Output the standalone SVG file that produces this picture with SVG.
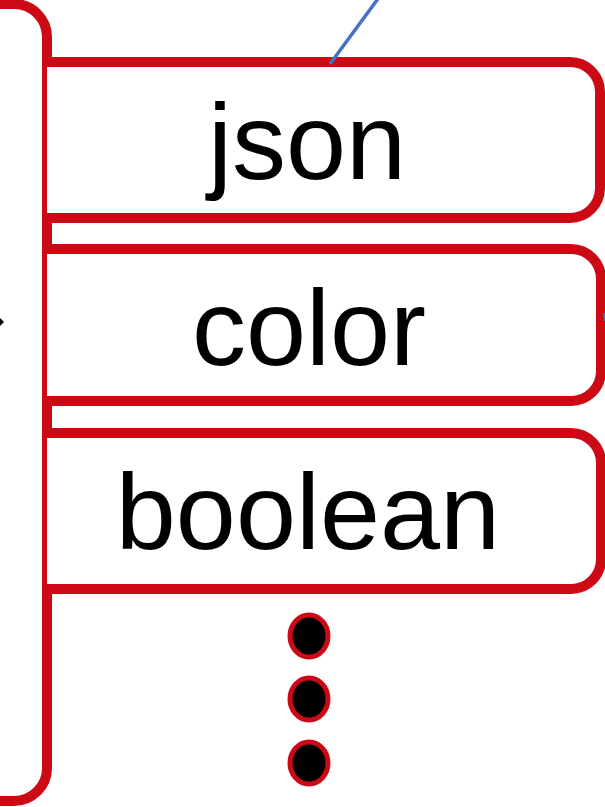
<svg xmlns="http://www.w3.org/2000/svg" width="605" height="807" viewBox="0 0 605 807">
<style>
.box{fill:#fff;stroke:#CC0A16;stroke-width:10;}
.lbl{font-family:"Liberation Sans",Arial,sans-serif;font-size:108px;fill:#000;text-anchor:middle;}
.dot{fill:#000;stroke:#CC0A16;stroke-width:5;}
</style>
<rect width="605" height="807" fill="#fff"/>
<g id="container">
<rect class="box" x="-120" y="4" width="167" height="797" rx="33" ry="33"/>
</g>
<g id="node-json">
<path class="box" d="M47,62 H570 A30,30 0 0 1 600,92 V188 A30,30 0 0 1 570,218 H47"/>
<text class="lbl" x="307" y="179">json</text>
</g>
<g id="node-color">
<path class="box" d="M47,249 H571 A30,30 0 0 1 601,279 V371 A30,30 0 0 1 571,401 H47"/>
<text class="lbl" x="309" y="365">color</text>
</g>
<g id="node-boolean">
<path class="box" d="M47,433 H571 A30,30 0 0 1 601,463 V559 A30,30 0 0 1 571,589 H47"/>
<text class="lbl" x="308" y="549">boolean</text>
</g>
<g id="node-more">
<ellipse class="dot" cx="309" cy="636" rx="19" ry="21"/>
<ellipse class="dot" cx="309" cy="699" rx="19" ry="21"/>
<ellipse class="dot" cx="309" cy="763" rx="19" ry="21"/>
</g>
<g id="connectors">
<line x1="330" y1="64" x2="380" y2="-4" stroke="#4472C4" stroke-width="3.5"/>
<path d="M0,318 L4,322 L0,326 Z" fill="#000"/>
<line x1="604" y1="313" x2="605" y2="321" stroke="#4472C4" stroke-width="2"/>
</g>
</svg>
